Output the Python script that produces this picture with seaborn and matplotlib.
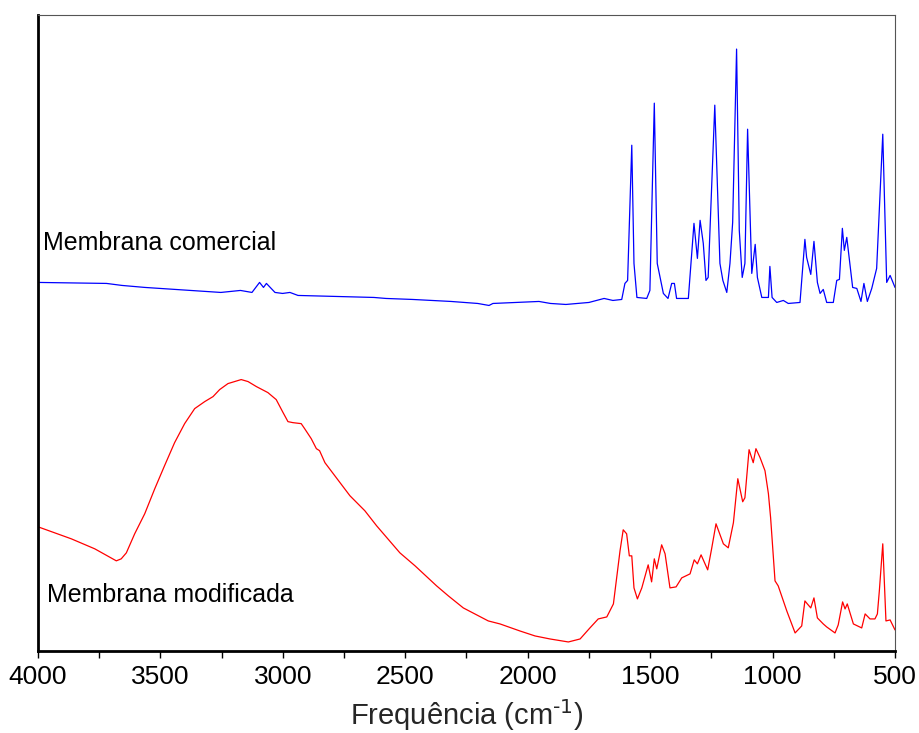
import numpy as np
import pandas as pd
import matplotlib
matplotlib.use('Agg')
import matplotlib.pyplot as plt
from matplotlib.ticker import MultipleLocator
import seaborn as sns

# espectro da membrana comercial (numero de onda, intensidade)
wn_comercial = [4000, 3720, 3657, 3563, 3253, 3173, 3126, 3095, 3079, 3067, 3032, 3001,
                2971, 2938, 2628, 2579, 2470, 2313, 2204, 2158, 2142, 2048, 1954, 1907,
                1844, 1750, 1688, 1652, 1616, 1603, 1592, 1575, 1566, 1554, 1514, 1501,
                1483, 1471, 1446, 1427, 1412, 1401, 1392, 1344, 1321, 1307, 1296, 1283,
                1272, 1263, 1236, 1215, 1203, 1187, 1174, 1163, 1147, 1136, 1124, 1113,
                1102, 1085, 1071, 1062, 1044, 1017, 1011, 1002, 983, 956, 936, 888,
                868, 861, 844, 831, 817, 806, 793, 779, 752, 738, 727, 715, 707, 697,
                673, 656, 639, 627, 613, 595, 575, 550, 534, 520, 500]
int_comercial = [368, 367, 365, 363, 358, 360, 358, 368, 363, 367, 358, 357,
                 358, 355, 353, 352, 351, 349, 347, 345, 347, 348, 349, 347,
                 346, 348, 352, 350, 351, 367, 370, 505, 387, 353, 352, 360,
                 547, 387, 357, 352, 367, 367, 352, 352, 427, 392, 430, 407,
                 370, 373, 545, 387, 370, 358, 387, 428, 601, 420, 373, 387,
                 521, 377, 406, 373, 353, 353, 384, 353, 348, 350, 347, 348,
                 411, 393, 376, 409, 368, 357, 361, 348, 348, 370, 371, 422, 400, 413,
                 363, 362, 349, 367, 349, 362, 382, 516, 368, 375, 363]

# espectro da membrana modificada
wn_modificada = [4000, 3864, 3768, 3680, 3660, 3639, 3605, 3564, 3523, 3483, 3442, 3401,
                 3360, 3319, 3285, 3258, 3224, 3170, 3142, 3108, 3061, 3027, 2999, 2979,
                 2959, 2925, 2911, 2884, 2863, 2850, 2828, 2794, 2726, 2665, 2617, 2522,
                 2460, 2372, 2324, 2263, 2161, 2113, 2032, 1970, 1909, 1834, 1786, 1746,
                 1712, 1677, 1650, 1623, 1610, 1596, 1585, 1575, 1566, 1552, 1534, 1508,
                 1494, 1483, 1473, 1453, 1439, 1419, 1394, 1371, 1337, 1320, 1307, 1292,
                 1265, 1249, 1231, 1201, 1181, 1160, 1142, 1122, 1113, 1096, 1079, 1068,
                 1051, 1031, 1017, 1008, 990, 977, 942, 908, 881, 868, 858, 844, 831,
                 817, 793, 779, 745, 732, 714, 704, 695, 670, 636, 622, 602, 582, 572,
                 564, 550, 537, 520, 500]
int_modificada = [124, 112, 102, 90, 92, 98, 117, 137, 162, 185, 208, 227,
                  242, 249, 254, 261, 267, 271, 269, 264, 258, 251, 238, 229,
                  228, 227, 222, 212, 202, 200, 188, 177, 155, 140, 125, 98,
                  85, 65, 55, 43, 30, 27, 20, 15, 12, 9, 12, 23,
                  32, 34, 47, 100, 121, 117, 95, 95, 63, 52, 63, 86,
                  69, 92, 82, 106, 97, 63, 64, 73, 77, 91, 87, 96,
                  81, 102, 127, 107, 103, 128, 172, 149, 153, 201, 188, 202,
                  193, 180, 157, 133, 70, 65, 40, 18, 25, 50, 47, 43, 53,
                  33, 27, 24, 18, 26, 49, 42, 47, 27, 23, 37, 32, 32,
                  37, 60, 107, 30, 31, 21]

labels = ['Membrana comercial', 'Membrana modificada']
label_pos = [(3980, 400), (3963, 49)]
xticks = [4000, 3500, 3000, 2500, 2000, 1500, 1000, 500]

sns.set_style('white')
plt.rcParams['font.family'] = ['Liberation Sans', 'DejaVu Sans']
plt.rcParams['mathtext.default'] = 'regular'

fig = plt.figure(figsize=(9.19, 7.33), dpi=100)
ax = fig.add_axes([0.0413, 0.1119, 0.9326, 0.8676])

sns.lineplot(x=wn_comercial, y=int_comercial, color='#0000ff', lw=0.9,
             estimator=None, sort=False, ax=ax)
sns.lineplot(x=wn_modificada, y=int_modificada, color='#ff0000', lw=0.9,
             estimator=None, sort=False, ax=ax)

for txt, (tx, ty) in zip(labels, label_pos):
    ax.text(tx, ty, txt, fontsize=18, ha='left', va='baseline', color='black')

ax.set_xlim(4000, 500)
ax.set_ylim(0, 635)
ax.set_xticks(xticks)
ax.set_xticklabels([str(t) for t in xticks])
ax.xaxis.set_minor_locator(MultipleLocator(250))
ax.set_yticks([])
ax.tick_params(axis='x', which='both', direction='out', length=5, width=1,
               bottom=True, top=False, labelsize=19, pad=5, colors='black')
ax.set_xlabel('Frequência (cm$^{\\text{-1}}$)', fontsize=21, labelpad=6)
ax.set_ylabel('')

for side in ['left', 'bottom']:
    ax.spines[side].set_color('black')
    ax.spines[side].set_linewidth(2)
for side in ['top', 'right']:
    ax.spines[side].set_color('#555555')
    ax.spines[side].set_linewidth(0.8)

fig.savefig('out.png', dpi=100)
